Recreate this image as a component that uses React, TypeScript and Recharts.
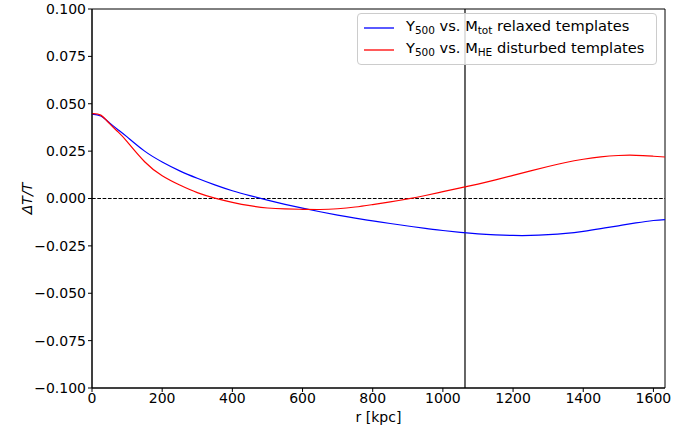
import React from 'react';
import { Line, LineChart, ReferenceArea, ReferenceLine, XAxis, YAxis } from 'recharts';

const radius = [
  0, 25, 50, 75, 100, 150, 200, 250, 300, 350, 400, 450, 500, 550, 600, 650, 700, 750, 800, 850, 900, 950,
  1000, 1050, 1100, 1150, 1200, 1250, 1300, 1350, 1400, 1450, 1500, 1550, 1600, 1633,
];

// relaxed templates, Y500 vs. Mtot
const relaxed = [
  0.0445, 0.0435, 0.0399, 0.0362, 0.0325, 0.025, 0.0193, 0.0146, 0.0107, 0.0072, 0.0041, 0.0015, -0.0009,
  -0.0031, -0.0051, -0.007, -0.0088, -0.0104, -0.0118, -0.0132, -0.0145, -0.0158, -0.0169, -0.0179, -0.0187,
  -0.0192, -0.0195, -0.0195, -0.0191, -0.0184, -0.0173, -0.0159, -0.0144, -0.0129, -0.0116, -0.0111,
];

// disturbed templates, Y500 vs. MHE
const disturbed = [
  0.0448, 0.044, 0.0395, 0.035, 0.03, 0.0194, 0.012, 0.0071, 0.0031, 0.0002, -0.002, -0.0038, -0.005,
  -0.0055, -0.0057, -0.0058, -0.0054, -0.0045, -0.0032, -0.0018, -0.0002, 0.0016, 0.0036, 0.0056, 0.0076,
  0.0098, 0.0122, 0.0146, 0.0169, 0.019, 0.0207, 0.022, 0.0227, 0.0228, 0.0223, 0.0219,
];

const xTicks = [0, 200, 400, 600, 800, 1000, 1200, 1400, 1600];
const yTicks = [-0.1, -0.075, -0.05, -0.025, 0, 0.025, 0.05, 0.075, 0.1];
const r500 = 1063;
const xMax = 1633;

const data = radius.map((r, i) => ({ r, relaxed: relaxed[i], disturbed: disturbed[i] }));

const font = 'DejaVu Sans';

const fmtY = (v: number) => (v < 0 ? '\u2212' + Math.abs(v).toFixed(3) : v.toFixed(3));

const subStyle: React.CSSProperties = { fontSize: 10.5, verticalAlign: -3 };

const LegendRow = ({ color, sub, label }: { color: string; sub: string; label: string }) => (
  <div style={{ display: 'flex', alignItems: 'center', height: 22 }}>
    <svg width={30} height={4} style={{ marginRight: 12 }}>
      <line x1={0} y1={2} x2={30} y2={2} stroke={color} strokeWidth={1.3} />
    </svg>
    <span style={{ whiteSpace: 'nowrap' }}>
      Y<sub style={subStyle}>500</sub> vs. M<sub style={subStyle}>{sub}</sub> {label}
    </span>
  </div>
);

const App = () => {
  return (
    <div style={{ position: 'absolute', left: 0, top: 0, width: 697, height: 427, background: '#fff' }}>
      <LineChart width={697} height={427} data={data} margin={{ top: 9, right: 32, bottom: 0, left: 0 }}>
        <XAxis
          dataKey="r"
          type="number"
          domain={[0, xMax]}
          ticks={xTicks}
          allowDataOverflow
          height={39}
          tickSize={4}
          stroke="#000"
          tick={{ fill: '#000', fontFamily: font, fontSize: 14 }}
          tickMargin={1}
          label={{ value: 'r [kpc]', position: 'insideBottom', offset: 5, fill: '#000', fontFamily: font, fontSize: 14 }}
        />
        <YAxis
          type="number"
          domain={[-0.1, 0.1]}
          ticks={yTicks}
          allowDataOverflow
          width={92}
          tickSize={4}
          stroke="#000"
          tickFormatter={fmtY}
          tick={{ fill: '#000', fontFamily: font, fontSize: 14 }}
          tickMargin={2}
          label={{
            value: '\u0394T/T',
            angle: -90,
            position: 'insideLeft',
            offset: 27,
            fill: '#000',
            fontFamily: font,
            fontSize: 14,
            fontStyle: 'italic',
            style: { textAnchor: 'middle' },
          }}
        />
        <ReferenceArea x1={0} x2={xMax} y1={-0.1} y2={0.1} fill="none" stroke="#000" strokeWidth={1} ifOverflow="visible" />
        <ReferenceLine y={0} stroke="#000" strokeWidth={1} strokeDasharray="3.7 1.6" />
        <ReferenceLine x={r500} stroke="#000" strokeWidth={1.2} />
        <Line type="natural" dataKey="relaxed" stroke="#0000ff" strokeWidth={1.2} dot={false} isAnimationActive={false} />
        <Line type="natural" dataKey="disturbed" stroke="#ff0000" strokeWidth={1.2} dot={false} isAnimationActive={false} />
      </LineChart>
      <div
        style={{
          position: 'absolute',
          left: 357,
          top: 13,
          width: 286,
          fontFamily: font,
          fontSize: 14.6,
          lineHeight: '16px',
          color: '#000',
          background: 'rgba(255,255,255,0.8)',
          border: '1px solid #cccccc',
          borderRadius: 4,
          padding: '3px 6px',
        }}
      >
        <LegendRow color="#0000ff" sub="tot" label="relaxed templates" />
        <LegendRow color="#ff0000" sub="HE" label="disturbed templates" />
      </div>
    </div>
  );
};

export default App;
